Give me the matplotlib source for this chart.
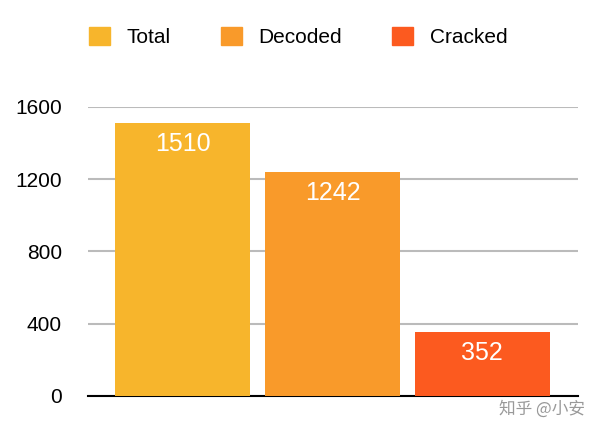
import matplotlib
matplotlib.use("Agg")
import matplotlib.pyplot as plt
from matplotlib.patches import Patch

categories = ["Total", "Decoded", "Cracked"]
values = [1510, 1242, 352]
colors = ["#F7B52C", "#F99A2A", "#FC5A1F"]
yticks = [0, 400, 800, 1200, 1600]

plt.rcParams['font.family'] = ['Liberation Sans', 'Noto Sans CJK SC', 'DejaVu Sans']
fig = plt.figure(figsize=(6, 4.33), dpi=100)
ax = fig.add_axes([0.147, 0.0855, 0.816, 0.6675])
x = list(range(len(categories)))
bars = ax.bar(x, values, width=0.9, color=colors, zorder=3)
for xi, v in zip(x, values):
    ax.text(xi, v - 50, str(v), ha='center', va='top', color='white', fontsize=18, zorder=4)
ax.set_xlim(-0.63, 2.637)
ax.set_ylim(0, 1600)
ax.set_yticks(yticks)
ax.set_yticklabels([str(t) for t in yticks], fontsize=15)
ax.yaxis.grid(True, color='#BBBBBB', linewidth=1.5, zorder=0)
ax.set_xticks([])
for s in ['top', 'right', 'left']:
    ax.spines[s].set_visible(False)
ax.spines['bottom'].set_linewidth(1.5)
ax.spines['bottom'].set_color('black')
ax.tick_params(axis='y', length=0, pad=19)
handles = [Patch(color=c, label=l) for c, l in zip(colors, categories)]
fig.legend(handles=handles, loc='center', bbox_to_anchor=(0.497, 0.915), ncol=3, frameon=False,
           fontsize=15, handlelength=1.0, handleheight=1.0, columnspacing=2.4, handletextpad=0.8)
fig.text(0.975, 0.055, "知乎 @小安", ha='right', va='center', fontsize=12, color='#999999',
         family=['Noto Sans CJK SC', 'DejaVu Sans'])
fig.savefig("out.png", dpi=100)
